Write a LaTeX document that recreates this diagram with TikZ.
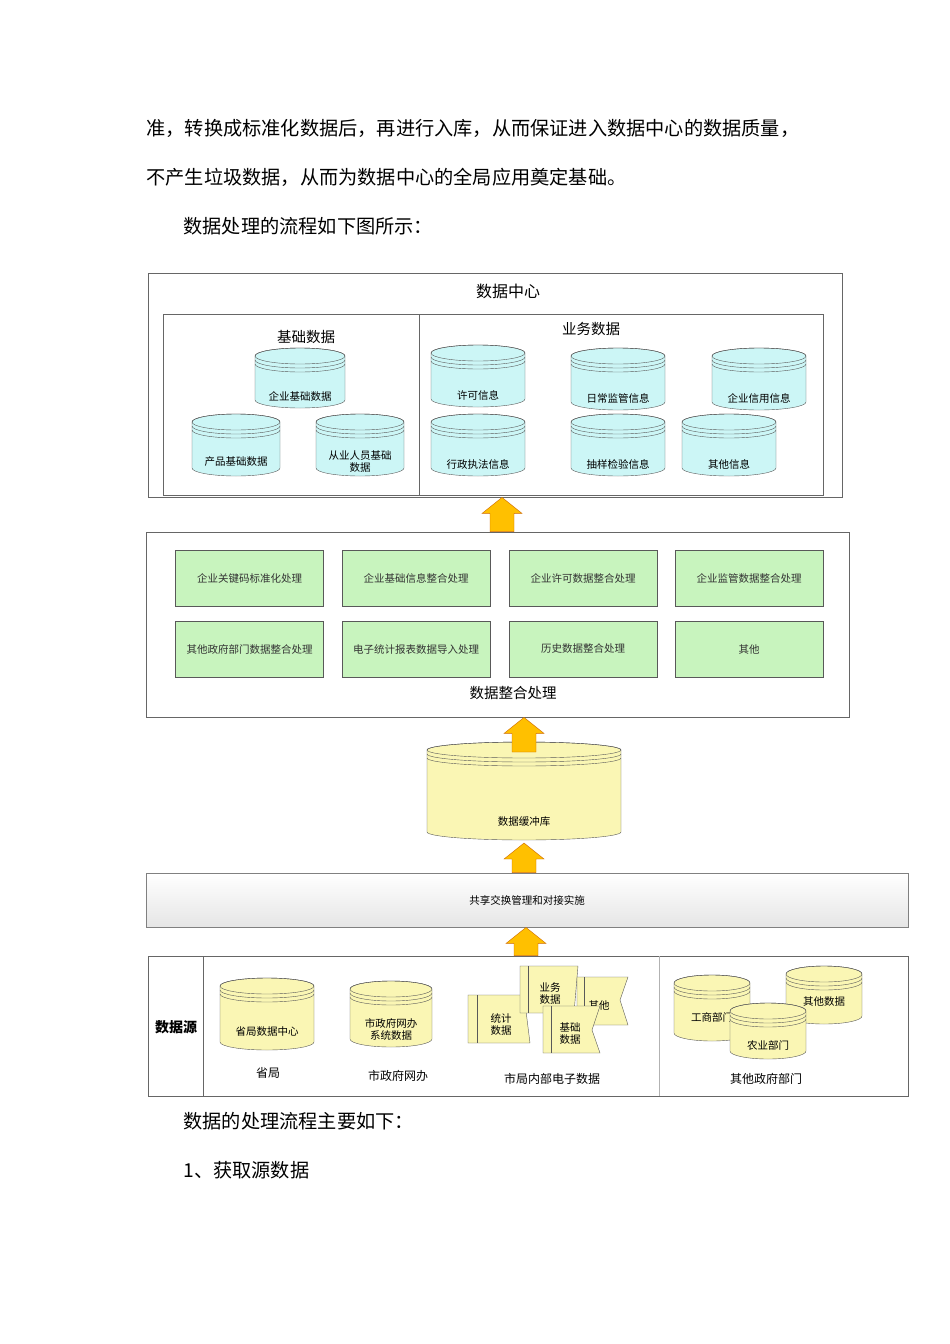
\documentclass[tikz,border=0pt]{standalone}
\usepackage{fontspec}
\newfontfamily\cjk{Noto Sans CJK SC}
\usetikzlibrary{positioning,calc}
\definecolor{dbcyan}{RGB}{204,246,246}
\definecolor{dbyel}{RGB}{250,246,180}
\definecolor{stepgreen}{RGB}{200,244,190}
\definecolor{arrfill}{RGB}{255,192,0}
\tikzset{
  txt/.style={font=\cjk\fontsize{19.2}{19}\selectfont, anchor=west},
  frame/.style={draw=gray!80!black, line width=0.8pt},
  proc/.style={draw=gray!70!black, fill=stepgreen, minimum width=148pt, minimum height=56pt, inner sep=0pt, font=\cjk\fontsize{10.5}{12}\selectfont, text=black!80},
  lbl/.style={font=\cjk\fontsize{14.5}{16}\selectfont},
  srclbl/.style={font=\cjk\fontsize{12}{13}\selectfont},
  small/.style={font=\cjk\fontsize{10.5}{12}\selectfont, align=center},
  doc/.style={draw=gray!70!black, fill=dbyel}
}
% cylinder: #1 name, #2 cx, #3 top, #4 width, #5 height, #6 fill, #7 text, #8 text y offset from bottom
\newcommand\dbcyl[8]{%
  \pgfmathsetmacro\rx{#4/2}
  \pgfmathsetmacro\yb{#3+#5-8}
  \filldraw[fill=#6, draw=gray!70!black] (#2-\rx,#3+8) -- (#2-\rx,\yb) arc(180:360:\rx pt and 8pt) -- (#2+\rx,#3+8) arc(0:180:\rx pt and 8pt) -- cycle;
  \draw[gray!70!black] (#2,#3+8) ellipse[x radius=\rx, y radius=8];
  \draw[gray!70!black] (#2-\rx,#3+12) arc(180:360:\rx pt and 8pt);
  \draw[gray!70!black] (#2-\rx,#3+16) arc(180:360:\rx pt and 8pt);
  \coordinate (#1-top) at (#2,#3);
  \coordinate (#1-bot) at (#2,#3+#5);
  \node[small, inner sep=0pt] (#1) at (#2,#3+#5-#8) {#7};
}
% fat upward arrow from (#1) up to (#2)
\newcommand\uparr[2]{%
  \path let \p1=(#1), \p2=(#2) in
    [fill=arrfill, draw=orange!80!black]
    (\x1-12,\y1) -- (\x1-12,\y2-16) -- (\x1-20,\y2-16) -- (\x1,\y2) -- (\x1+20,\y2-16) -- (\x1+12,\y2-16) -- (\x1+12,\y1) -- cycle;
}
\begin{document}
\begin{tikzpicture}[x=1pt, y=-1pt]
  \useasboundingbox (0,0) rectangle (950,1344);

  % body text
  \node[txt] at (143,128) {准，转换成标准化数据后，再进行入库，从而保证进入数据中心的数据质量，};
  \node[txt] at (143,177) {不产生垃圾数据，从而为数据中心的全局应用奠定基础。};
  \node[txt] at (180,226) {数据处理的流程如下图所示：};
  \node[txt] at (180,1121) {数据的处理流程主要如下：};
  \node[txt] at (180,1170) {1、获取源数据};

  % data centre
  \node[frame, minimum width=694pt, minimum height=224pt, inner sep=0pt] (center) at (495,385) {};
  \node[lbl, font=\cjk\fontsize{16}{18}\selectfont] (centert) at (508,291) {数据中心};
  \draw[frame] (163,314) rectangle (419,495);
  \draw[frame] (419,314) rectangle (823,495);
  \node[lbl] (basic) at (306,337) {基础数据};
  \node[lbl] (biz) at (591,329) {业务数据};

  \dbcyl{c1}{300}{348}{90}{60}{dbcyan}{企业基础数据}{12}
  \dbcyl{c2}{236}{414}{88}{62}{dbcyan}{产品基础数据}{14}
  \dbcyl{c3}{360}{414}{88}{62}{dbcyan}{从业人员基础\\数据}{14}
  \dbcyl{c4}{478}{345}{94}{62}{dbcyan}{许可信息}{12}
  \dbcyl{c5}{618}{348}{94}{62}{dbcyan}{日常监管信息}{12}
  \dbcyl{c6}{759}{348}{94}{62}{dbcyan}{企业信用信息}{12}
  \dbcyl{c7}{478}{414}{94}{62}{dbcyan}{行政执法信息}{12}
  \dbcyl{c8}{618}{414}{94}{62}{dbcyan}{抽样检验信息}{12}
  \dbcyl{c9}{729}{414}{94}{62}{dbcyan}{其他信息}{12}

  % integration
  \node[frame, minimum width=703pt, minimum height=185pt, inner sep=0pt] (merge) at (497.5,624.5) {};
  \node[lbl] (merget) at (513,693) {数据整合处理};
  \node[proc] (s1) at (249.5,578) {企业关键码标准化处理};
  \node[proc] (s2) at (416,578) {企业基础信息整合处理};
  \node[proc] (s3) at (583,578) {企业许可数据整合处理};
  \node[proc] (s4) at (749,578) {企业监管数据整合处理};
  \node[proc] (s5) at (249.5,649) {其他政府部门数据整合处理};
  \node[proc] (s6) at (416,649) {电子统计报表数据导入处理};
  \node[proc] (s7) at (583,649) {历史数据整合处理};
  \node[proc] (s8) at (749,649) {其他};

  % buffer
  \dbcyl{buffer}{524}{742}{194}{98}{dbyel}{数据缓冲库}{18}

  % exchange bar
  \node[frame, draw=gray, top color=white, bottom color=gray!20, minimum width=762pt, minimum height=54pt, font=\cjk\fontsize{10.5}{12}\selectfont] (bar) at (527,900) {共享交换管理和对接实施};

  % sources
  \node[frame, minimum width=760pt, minimum height=140pt, inner sep=0pt] (src) at (528,1026) {};
  \draw[frame] (203,956) -- (203,1096);
  \draw[frame, gray!60] (659,956) -- (659,1096);
  \node[font=\cjk\bfseries\fontsize{14}{16}\selectfont] (srct) at (176,1027) {数据源};

  \dbcyl{d1}{267}{978}{94}{72}{dbyel}{省局数据中心}{18}
  \node[srclbl] (l1) at (268,1073) {省局};
  \dbcyl{d2}{391}{981}{82}{66}{dbyel}{市政府网办\\系统数据}{18}
  \node[srclbl] (l2) at (398,1076) {市政府网办};

  \filldraw[doc] (468,995) -- (524,995) -- (530,1043) -- (468,1043) -- cycle;
  \draw[gray!70!black] (477,995) -- (477,1043);
  \node[small] (f1) at (501,1024) {统计\\数据};
  \filldraw[doc] (520,966) -- (578,966) -- (574,1013) -- (520,1013) -- cycle;
  \draw[gray!70!black] (528,966) -- (528,1013);
  \node[small] (f2) at (550,994) {业务\\数据};
  \filldraw[doc] (577,977) -- (628,977) -- (620,1000) -- (628,1025) -- (577,1025) -- cycle;
  \draw[gray!70!black] (584,977) -- (584,1025);
  \node[small] (f3) at (599,1005) {其他};
  \filldraw[doc] (543,1006) -- (600,1006) -- (592,1030) -- (600,1053) -- (543,1053) -- cycle;
  \draw[gray!70!black] (551,1006) -- (551,1053);
  \node[small] (f4) at (570,1034) {基础\\数据};
  \node[srclbl] (l3) at (552,1079) {市局内部电子数据};

  \dbcyl{d3}{712}{975}{76}{66}{dbyel}{工商部门}{24}
  \dbcyl{d4}{824}{966}{76}{58}{dbyel}{其他数据}{22}
  \dbcyl{d5}{768}{1003}{76}{56}{dbyel}{农业部门}{14}
  \node[srclbl] (l4) at (766,1079) {其他政府部门};

  % arrows
  \coordinate (a1) at ($(merge.north)+(4.5,0)$);
  \coordinate (a2) at (buffer-top |- merge.south);
  \coordinate (a3) at (bar.north -| buffer-top);
  \coordinate (a4) at ($(src.north)+(-2,0)$);
  \uparr{a1}{a1 |- center.south}
  \uparr{$(buffer-top)+(0,10)$}{a2}
  \uparr{a3}{$(buffer-bot)+(0,3)$}
  \uparr{a4}{a4 |- bar.south}
\end{tikzpicture}
\end{document}
